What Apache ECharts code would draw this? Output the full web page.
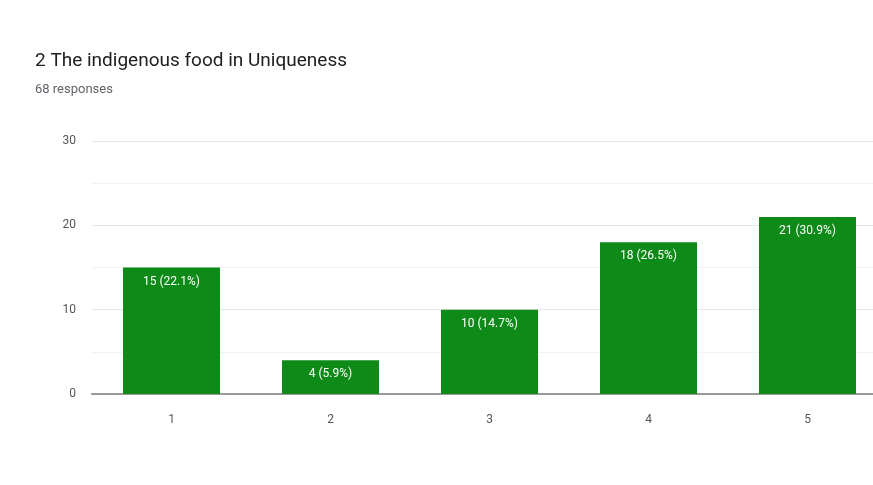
<!DOCTYPE html>
<html>
<head>
<meta charset="utf-8">
<script src="https://cdn.jsdelivr.net/npm/echarts@6/dist/echarts.min.js"></script>
<style>
  html, body { margin: 0; padding: 0; background: #fff; overflow: hidden; }
  #chart { width: 900px; height: 485px; }
</style>
</head>
<body>
<div id="chart"></div>
<script>
var categories = ['1', '2', '3', '4', '5'];
var counts = [15, 4, 10, 18, 21];
var percents = ['22.1%', '5.9%', '14.7%', '26.5%', '30.9%'];
var yTicks = [0, 10, 20, 30];

// chart is a bit wider than the window: the last bar runs off the right edge like in the screenshot
var chart = echarts.init(document.getElementById('chart'));
chart.setOption({
  animation: false,
  title: {
    text: '2 The indigenous food in Uniqueness',
    subtext: '68 responses',
    left: 30,
    top: 47,
    itemGap: 12,
    textStyle: { fontFamily: 'Roboto', fontSize: 19, fontWeight: 'normal', color: '#202124' },
    subtextStyle: { fontFamily: 'Roboto', fontSize: 13, color: '#5f6368' }
  },
  grid: { left: 92, top: 141, bottom: 91, right: 13 },
  xAxis: {
    type: 'category',
    data: categories,
    axisLine: { lineStyle: { color: '#9a9a9a', width: 2 } },
    axisTick: { show: false },
    axisLabel: { color: '#555', fontFamily: 'Roboto', fontSize: 12, margin: 20 }
  },
  yAxis: {
    type: 'value',
    min: 0,
    max: 30,
    interval: 5,
    axisLine: { show: false },
    axisTick: { show: false },
    axisLabel: {
      color: '#555', fontFamily: 'Roboto', fontSize: 12, margin: 16,
      formatter: function (v) { return yTicks.indexOf(v) >= 0 ? v : ''; }
    },
    splitLine: { lineStyle: { color: ['#e6e6e6', '#f2f2f2'] } }
  },
  series: [{
    type: 'bar',
    data: counts,
    barCategoryGap: '39%',
    itemStyle: { color: '#0d8a17' },
    label: {
      show: true,
      position: 'insideTop',
      distance: 8,
      color: '#fff',
      fontFamily: 'Roboto',
      fontSize: 12,
      formatter: function (p) { return p.value + ' (' + percents[p.dataIndex] + ')'; }
    }
  }]
});
</script>
</body>
</html>
